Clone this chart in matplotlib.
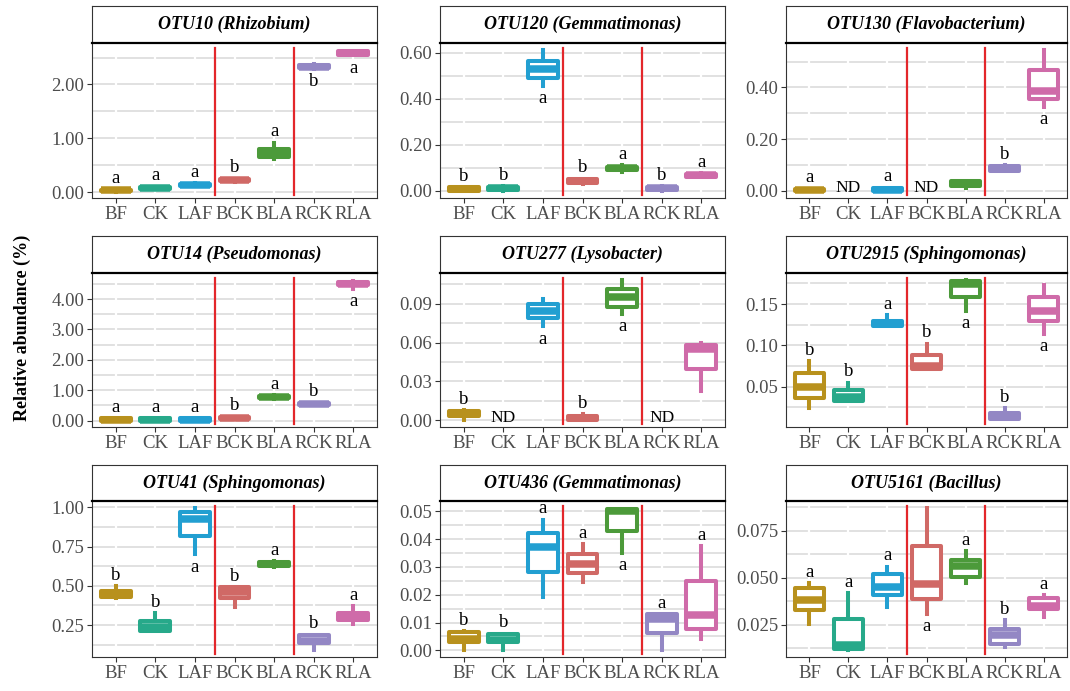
import numpy as np
import matplotlib
matplotlib.use("Agg")
import matplotlib.pyplot as plt

plt.rcParams['font.family'] = ['Liberation Serif', 'DejaVu Serif']

groups = ["BF", "CK", "LAF", "BCK", "BLA", "RCK", "RLA"]
colors = ["#B8911D", "#27A98A", "#229FD1", "#D06966", "#4C9A3A", "#9387C4", "#CF6BA9"]

titles = ["OTU10 (Rhizobium)", "OTU120 (Gemmatimonas)", "OTU130 (Flavobacterium)",
          "OTU14 (Pseudomonas)", "OTU277 (Lysobacter)", "OTU2915 (Sphingomonas)",
          "OTU41 (Sphingomonas)", "OTU436 (Gemmatimonas)", "OTU5161 (Bacillus)"]

# box stats per group: (whisker low, q1, median, q3, whisker high); None = not detected
otu10 = [(0.01, 0.02, 0.03, 0.045, 0.05), (0.05, 0.06, 0.075, 0.09, 0.10),
         (0.11, 0.12, 0.135, 0.15, 0.16), (0.19, 0.20, 0.22, 0.24, 0.25),
         (0.62, 0.66, 0.74, 0.80, 0.92), (2.29, 2.30, 2.33, 2.37, 2.38),
         (2.54, 2.55, 2.58, 2.62, 2.63)]
otu120 = [(0.0, 0.0, 0.006, 0.014, 0.016), (0.0, 0.003, 0.01, 0.018, 0.02),
          (0.455, 0.49, 0.53, 0.565, 0.611), (0.03, 0.035, 0.043, 0.05, 0.052),
          (0.08, 0.09, 0.097, 0.105, 0.11), (0.0, 0.004, 0.01, 0.018, 0.02),
          (0.06, 0.061, 0.067, 0.074, 0.075)]
otu130 = [(0.0, 0.0, 0.003, 0.007, 0.008), None,
          (0.0, 0.0, 0.004, 0.01, 0.012), None,
          (0.01, 0.02, 0.028, 0.036, 0.038), (0.076, 0.078, 0.086, 0.095, 0.10),
          (0.323, 0.356, 0.387, 0.467, 0.544)]
otu14 = [(0.0, 0.0, 0.03, 0.07, 0.07), (0.0, 0.0, 0.03, 0.07, 0.07),
         (0.0, 0.0, 0.03, 0.07, 0.07), (0.05, 0.05, 0.09, 0.13, 0.13),
         (0.72, 0.74, 0.78, 0.82, 0.83), (0.50, 0.51, 0.55, 0.58, 0.59),
         (4.33, 4.45, 4.51, 4.58, 4.60)]
otu277 = [(0.0, 0.003, 0.005, 0.007, 0.008), None,
          (0.0725, 0.079, 0.084, 0.0895, 0.0936), (0.0, 0.0, 0.0015, 0.003, 0.005),
          (0.082, 0.0877, 0.0951, 0.1017, 0.108), None,
          (0.0224, 0.0397, 0.055, 0.0585, 0.0598)]
otu2915 = [(0.024, 0.0368, 0.05, 0.066, 0.081), (0.033, 0.033, 0.037, 0.046, 0.0548),
           (0.123, 0.124, 0.127, 0.130, 0.137), (0.0712, 0.0712, 0.075, 0.0888, 0.102),
           (0.142, 0.158, 0.174, 0.178, 0.179), (0.011, 0.011, 0.014, 0.018, 0.024),
           (0.114, 0.129, 0.142, 0.159, 0.173)]
otu41 = [(0.42, 0.43, 0.45, 0.47, 0.50), (0.21, 0.215, 0.24, 0.276, 0.325),
         (0.70, 0.815, 0.925, 0.97, 0.995), (0.363, 0.42, 0.46, 0.49, 0.49),
         (0.62, 0.625, 0.64, 0.65, 0.655), (0.09, 0.133, 0.15, 0.186, 0.19),
         (0.255, 0.28, 0.30, 0.33, 0.37)]
otu436 = [(0.0, 0.003, 0.004, 0.0066, 0.007), (0.0, 0.003, 0.0036, 0.006, 0.006),
          (0.0193, 0.0283, 0.0373, 0.0422, 0.047), (0.0247, 0.0277, 0.0311, 0.0346, 0.0383),
          (0.035, 0.0428, 0.050, 0.0508, 0.0508), (0.0, 0.0064, 0.0113, 0.0129, 0.0129),
          (0.0039, 0.0078, 0.0127, 0.0249, 0.0376)]
otu5161 = [(0.0255, 0.0327, 0.038, 0.0443, 0.047), (0.0113, 0.0121, 0.014, 0.0282, 0.0416),
           (0.0345, 0.0407, 0.0448, 0.0518, 0.0559), (0.0309, 0.0386, 0.0466, 0.0671, 0.0871),
           (0.0473, 0.0505, 0.0565, 0.0595, 0.064), (0.013, 0.0145, 0.0195, 0.0225, 0.0273),
           (0.0288, 0.0332, 0.035, 0.0393, 0.0407)]

# significance letters and whether they sit above (u) or below (d) the box
otu10_sig = ["a", "a", "a", "b", "a", "b", "a"]
otu10_pos = ["u", "u", "u", "u", "u", "d", "d"]
otu120_sig = ["b", "b", "a", "b", "a", "b", "a"]
otu120_pos = ["u", "u", "d", "u", "u", "u", "u"]
otu130_sig = ["a", "ND", "a", "ND", "", "b", "a"]
otu130_pos = ["u", "n", "u", "n", "u", "u", "d"]
otu14_sig = ["a", "a", "a", "b", "a", "b", "a"]
otu14_pos = ["u", "u", "u", "u", "u", "u", "d"]
otu277_sig = ["b", "ND", "a", "b", "a", "ND", ""]
otu277_pos = ["u", "n", "d", "u", "d", "n", "u"]
otu2915_sig = ["b", "b", "a", "b", "a", "b", "a"]
otu2915_pos = ["u", "u", "u", "u", "d", "u", "d"]
otu41_sig = ["b", "b", "a", "b", "a", "b", "a"]
otu41_pos = ["u", "u", "d", "u", "u", "u", "u"]
otu436_sig = ["b", "b", "a", "a", "a", "a", "a"]
otu436_pos = ["u", "u", "u", "u", "d", "u", "u"]
otu5161_sig = ["a", "a", "a", "a", "a", "b", "a"]
otu5161_pos = ["u", "u", "u", "d", "u", "u", "u"]

yticks = [[0, 1, 2], [0, 0.2, 0.4, 0.6], [0, 0.2, 0.4],
          [0, 1, 2, 3, 4], [0, 0.03, 0.06, 0.09], [0.05, 0.10, 0.15],
          [0.25, 0.5, 0.75, 1.0], [0, 0.01, 0.02, 0.03, 0.04, 0.05], [0.025, 0.05, 0.075]]
ylims = [(-0.11, 2.77), (-0.032, 0.643), (-0.028, 0.572),
         (-0.21, 4.86), (-0.0051, 0.1137), (0.0012, 0.1876),
         (0.047, 1.04), (-0.0024, 0.0537), (0.0077, 0.0909)]
decimals = [2, 2, 2, 2, 2, 2, 2, 2, 3]

panels = [otu10, otu120, otu130, otu14, otu277, otu2915, otu41, otu436, otu5161]
sigs = [otu10_sig, otu120_sig, otu130_sig, otu14_sig, otu277_sig, otu2915_sig,
        otu41_sig, otu436_sig, otu5161_sig]
poss = [otu10_pos, otu120_pos, otu130_pos, otu14_pos, otu277_pos, otu2915_pos,
        otu41_pos, otu436_pos, otu5161_pos]

W, H = 1070, 691
fig = plt.figure(figsize=(W / 100, H / 100), dpi=100)

col_left = [92, 440, 786]
col_w = [285, 285, 281]
rows = [(6, 43, 198), (236, 273, 427), (465, 501, 657)]

grid_col = "#D9D9D9"
frame_col = "#333333"

for i in range(9):
    r, c = divmod(i, 3)
    top, strip_bot, bot = rows[r]
    x0, w = col_left[c], col_w[c]

    # strip
    s = fig.add_axes([x0 / W, 1 - strip_bot / H, w / W, (strip_bot - top) / H])
    s.set_xticks([])
    s.set_yticks([])
    for sp in s.spines.values():
        sp.set_color(frame_col)
        sp.set_linewidth(0.8)
    s.spines['bottom'].set_visible(False)
    s.text(0.5, 0.5, titles[i], ha='center', va='center', fontsize=13,
           fontweight='bold', fontstyle='italic', transform=s.transAxes)

    ax = fig.add_axes([x0 / W, 1 - bot / H, w / W, (bot - strip_bot) / H])
    lo, hi = ylims[i]
    ax.set_xlim(0.4, 7.6)
    ax.set_ylim(lo, hi)

    ticks = yticks[i]
    step = ticks[1] - ticks[0]
    minor = np.arange(ticks[0] - step / 2, hi, step)
    minor = [m for m in minor if lo < m < hi]
    ax.set_yticks(ticks)
    ax.set_yticklabels([f"{t:.{decimals[i]}f}" for t in ticks])
    ax.set_yticks(minor, minor=True)
    ax.tick_params(axis='y', which='minor', length=0)
    ax.grid(True, axis='y', which='both', color=grid_col, linewidth=1.1, zorder=0)
    ax.set_axisbelow(True)

    pos = np.arange(1, 8)
    ax.set_xticks(pos)
    ax.set_xticklabels(groups)
    ax.tick_params(axis='both', which='major', colors=frame_col, labelcolor='#4D4D4D',
                   labelsize=13.5, length=3.5, width=0.8, pad=2)
    for x in pos:
        ax.axvline(x, color='white', linewidth=1.6, zorder=1.5)

    for sp in ax.spines.values():
        sp.set_color(frame_col)
        sp.set_linewidth(0.8)
    ax.spines['top'].set_color('black')
    ax.spines['top'].set_linewidth(1.6)

    # boxes
    data = panels[i]
    idx = [k for k in range(7) if data[k] is not None]
    stats = [dict(whislo=data[k][0], q1=data[k][1], med=data[k][2],
                  q3=data[k][3], whishi=data[k][4]) for k in idx]
    bp = ax.bxp(stats, positions=[pos[k] for k in idx], widths=0.75,
                showcaps=False, showfliers=False, patch_artist=True,
                manage_ticks=False, zorder=3)
    for j, k in enumerate(idx):
        col = colors[k]
        b = bp['boxes'][j]
        b.set_facecolor('white')
        b.set_edgecolor(col)
        b.set_linewidth(2.9)
        b.set_joinstyle('round')
        b.set_zorder(3)
        m = bp['medians'][j]
        m.set_color(col)
        m.set_linewidth(5.4)
        m.set_solid_capstyle('butt')
        m.set_zorder(3.2)
        for wl in bp['whiskers'][2 * j:2 * j + 2]:
            wl.set_color(col)
            wl.set_linewidth(2.9)
            wl.set_zorder(2.9)

    # dividers
    for xv in (3.5, 5.5):
        ax.axvline(xv, ymin=0.021, ymax=0.968, color='#E3272B', linewidth=1.6, zorder=4)

    # letters
    for k in range(7):
        lab = sigs[i][k]
        if not lab:
            continue
        p = poss[i][k]
        if p == "n":
            ax.annotate(lab, (pos[k], 0), xytext=(0, 2), textcoords='offset points',
                        ha='center', va='center', fontsize=12.5, zorder=5)
        elif p == "u":
            ax.annotate(lab, (pos[k], data[k][4]), xytext=(0, 4.5), textcoords='offset points',
                        ha='center', va='baseline', fontsize=13.5, zorder=5)
        else:
            ax.annotate(lab, (pos[k], data[k][0]), xytext=(0, -3), textcoords='offset points',
                        ha='center', va='top', fontsize=13.5, zorder=5)

fig.text(22 / W, 1 - 328 / H, "Relative abundance (%)", rotation=90, ha='center',
         va='center', fontsize=13, fontweight='bold')

fig.savefig("out.png", dpi=100)
